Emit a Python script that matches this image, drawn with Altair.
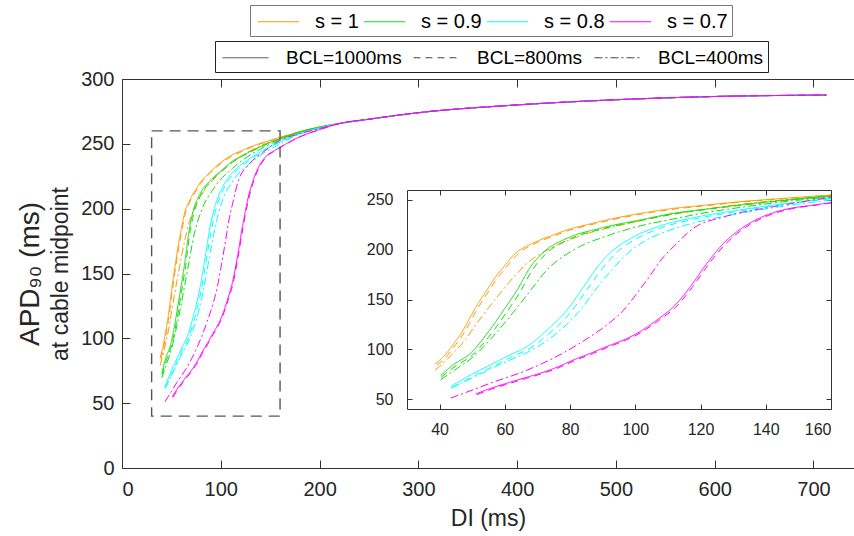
import altair as alt
import pandas as pd

# ---------------- data ----------------
S_LABELS = ["s = 1", "s = 0.9", "s = 0.8", "s = 0.7"]
BCL_LABELS = ["BCL=1000ms", "BCL=800ms", "BCL=400ms"]
COLORS = ["#FF9900", "#11DD11", "#00FFFF", "#FF00FF"]

# shared tail (all curves coincide for DI >= 220 ms)
tail_di = [221, 250, 300, 400, 500, 600, 713]
tail_apd = [265.8, 269, 274, 280, 284, 286.5, 287.6]

# s = 1
di_s1_b1000 = [38.6, 41, 44.4, 47, 49.5, 52, 54.6, 57, 59.7, 63.8, 67, 70.9, 75, 79.1, 85, 91.4, 101.6, 111.8, 122, 132.2, 145, 160, 180, 200]
apd_s1_b1000 = [85, 92, 106, 118, 133, 147, 160, 172, 183, 198, 204, 210, 215, 220, 225, 230, 236.6, 241.6, 245, 248.3, 251.5, 255, 259.4, 263]
di_s1_b800 = [39.2, 41.6, 45, 47.6, 50.1, 52.6, 55.2, 57.6, 60.3, 64.4, 67.6, 71.5, 75.6, 79.7, 85.6, 92, 102.2, 112.4, 122.6, 132.8, 145.6, 160, 180, 200]
apd_s1_b800 = [84, 91, 105, 117, 132, 146, 159, 171, 182, 197, 203.5, 209.5, 214.5, 219.5, 224.5, 229.5, 236, 241, 244.5, 248, 251.3, 254.8, 259.3, 262.9]
di_s1_b400 = [38.6, 42, 45, 48, 50.5, 53, 56, 58.5, 61, 64, 67, 70, 75, 80, 86, 92, 100, 110, 120, 132, 145, 160, 180, 200]
apd_s1_b400 = [79, 89, 99, 110, 122, 133, 146, 156, 166, 177, 187, 194, 203, 210, 217, 222, 228, 235, 240, 245.5, 250, 254, 259, 262.8]

# s = 0.9
di_s09_b1000 = [40.3, 44, 49.5, 54.6, 59.7, 63.8, 67.9, 72, 79.1, 89.3, 101.6, 111.8, 122, 132.2, 145, 160, 180, 200]
apd_s09_b1000 = [73.4, 84, 96, 116, 139.6, 159.7, 183, 198, 211.5, 221.6, 230, 236.6, 241, 245, 249.5, 254, 259.2, 262.9]
di_s09_b800 = [40.5, 44.4, 50, 55.2, 60.3, 64.4, 68.5, 72.6, 79.7, 89.9, 102, 112.2, 122.4, 132.6, 145.3, 160, 180, 200]
apd_s09_b800 = [72, 82, 94, 113, 136, 156, 180, 196, 210.5, 221, 229.5, 236, 240.7, 244.7, 249.3, 253.8, 259.1, 262.8]
di_s09_b400 = [40.3, 45, 50.5, 55.6, 60.7, 66.9, 73, 81.2, 91.4, 101.6, 111.8, 122, 132.2, 145, 160, 180, 200]
apd_s09_b400 = [69.4, 80, 93, 110, 129.6, 155, 180, 200, 214, 224, 231, 237.5, 242.5, 248, 253, 258.9, 262.7]

# s = 0.8
di_s08_b1000 = [43.4, 50.5, 56, 60.7, 66.9, 73, 79.1, 84.2, 89.3, 93.4, 99.5, 106.7, 116.9, 132.2, 145, 160, 180, 200]
apd_s08_b1000 = [62.7, 76, 85, 93, 103, 119.6, 139.6, 163, 186.5, 200, 213, 223, 231.6, 240, 246, 251.7, 258, 262.3]
di_s08_b800 = [44.2, 51.3, 56.8, 61.5, 67.7, 73.8, 79.9, 85, 90.1, 94.2, 100.3, 107.5, 117.7, 133, 145.8, 160, 180, 200]
apd_s08_b800 = [62, 74.5, 83.5, 91.5, 101, 116.5, 136, 159, 182, 197, 211, 221.5, 230.5, 239.3, 245.5, 251.3, 257.8, 262.2]
di_s08_b400 = [43.4, 50.5, 60.7, 67, 73, 79, 84, 88.5, 93.4, 97.5, 103, 110, 118, 128, 140, 160, 180, 200]
apd_s08_b400 = [61, 72, 88, 97, 109, 125, 143, 163, 182, 196, 209, 219, 227, 234, 241, 250, 257.5, 262]

# s = 0.7
di_s07_b1000 = [51, 55, 60.7, 65.8, 70.9, 76, 81.2, 86.3, 91.4, 96.5, 101.6, 106.7, 111.8, 116.9, 122, 127.1, 133.3, 140.4, 147.6, 153.8, 160, 180, 200]
apd_s07_b1000 = [55, 60, 66, 71, 76, 82, 89.5, 96, 103, 109.5, 118, 129.6, 143, 163, 186.5, 206.5, 223, 235, 241.6, 244.5, 247.3, 255.5, 261]
di_s07_b800 = [51.5, 55.5, 61.2, 66.3, 71.4, 76.5, 81.7, 86.8, 91.9, 97, 102.1, 107.2, 112.3, 117.4, 122.5, 127.6, 133.8, 140.9, 148.1, 154.3, 160, 180, 200]
apd_s07_b800 = [54.5, 59.5, 65.5, 70.5, 75.5, 81.5, 89, 95.5, 102.5, 109, 117.5, 129, 142, 162, 185.5, 205.5, 222.5, 234.5, 241.3, 244.3, 247, 255.3, 260.9]
di_s07_b400 = [43.4, 50, 55.6, 65.8, 76, 86.3, 91.5, 96.5, 100, 103.6, 108.7, 112, 118, 127.1, 142.4, 160, 180, 200]
apd_s07_b400 = [51, 59, 66, 77.7, 93, 113, 125, 139.6, 154, 169.7, 193, 204, 222, 233, 243.3, 252.7, 257.8, 261.8]

SERIES = [
    ("s = 1", "BCL=1000ms", di_s1_b1000, apd_s1_b1000),
    ("s = 1", "BCL=800ms", di_s1_b800, apd_s1_b800),
    ("s = 1", "BCL=400ms", di_s1_b400, apd_s1_b400),
    ("s = 0.9", "BCL=1000ms", di_s09_b1000, apd_s09_b1000),
    ("s = 0.9", "BCL=800ms", di_s09_b800, apd_s09_b800),
    ("s = 0.9", "BCL=400ms", di_s09_b400, apd_s09_b400),
    ("s = 0.8", "BCL=1000ms", di_s08_b1000, apd_s08_b1000),
    ("s = 0.8", "BCL=800ms", di_s08_b800, apd_s08_b800),
    ("s = 0.8", "BCL=400ms", di_s08_b400, apd_s08_b400),
    ("s = 0.7", "BCL=1000ms", di_s07_b1000, apd_s07_b1000),
    ("s = 0.7", "BCL=800ms", di_s07_b800, apd_s07_b800),
    ("s = 0.7", "BCL=400ms", di_s07_b400, apd_s07_b400),
]

MAIN_X_DOMAIN = [0, 741]
MAIN_Y_DOMAIN = [0, 300]
INSET_X_DOMAIN = [30, 160]
INSET_Y_DOMAIN = [40, 260]
MAIN_X_TICKS = [0, 100, 200, 300, 400, 500, 600, 700]
MAIN_Y_TICKS = [0, 50, 100, 150, 200, 250, 300]
INSET_X_TICKS = [40, 60, 80, 100, 120, 140, 160]
INSET_Y_TICKS = [50, 100, 150, 200, 250]

rows = []
for s, b, dis, apds in SERIES:
    for d, a in zip(dis + tail_di, apds + tail_apd):
        rows.append({"s": s, "BCL": b, "DI": d, "APD": a})
df = pd.DataFrame(rows)
inset_df = df[df["DI"] <= INSET_X_DOMAIN[1]]

rect_df = pd.DataFrame([{"x0": INSET_X_DOMAIN[0], "x1": INSET_X_DOMAIN[1],
                         "y0": INSET_Y_DOMAIN[0], "y1": INSET_Y_DOMAIN[1]}])
main_anchor = pd.DataFrame([{"DI": MAIN_X_DOMAIN[0], "APD": MAIN_Y_DOMAIN[0]}])
inset_anchor = pd.DataFrame([{"DI": INSET_X_DOMAIN[0], "APD": INSET_Y_DOMAIN[0]}])

# ---------------- layout ----------------
W, H = 732, 389
IX0, IX1 = 285, 709      # inset horizontal range (px in plot area)
IY0, IY1 = 330, 111      # inset vertical range (bottom, top)
FONT = "Liberation Sans"
AX = "#333333"

main_x = alt.Scale(domain=MAIN_X_DOMAIN, nice=False, zero=False)
main_y = alt.Scale(domain=MAIN_Y_DOMAIN, nice=False, zero=False)
inset_x = alt.Scale(domain=INSET_X_DOMAIN, range=[IX0, IX1], nice=False, zero=False)
inset_y = alt.Scale(domain=INSET_Y_DOMAIN, range=[IY0, IY1], nice=False, zero=False)

legend_common = dict(orient="none", direction="horizontal", title=None,
                     symbolSize=576, symbolStrokeWidth=1, padding=4,
                     labelFont=FONT, labelColor="black", fillColor="white")

color_enc = alt.Color(
    "s:N", scale=alt.Scale(domain=S_LABELS, range=COLORS),
    legend=alt.Legend(legendX=128, legendY=-74, columns=4, strokeColor="#777777",
                      symbolType="M-1.72,0H1.72", symbolOffset=12, labelOffset=24,
                      columnPadding=1, labelFontSize=20, **legend_common))
dash_enc = alt.StrokeDash(
    "BCL:N", scale=alt.Scale(domain=BCL_LABELS, range=[[1, 0], [7, 5], [8, 3, 2, 3]]),
    legend=alt.Legend(legendX=93, legendY=-38, columns=3, strokeColor="#222222",
                      symbolStrokeColor="#444444", symbolType="M-1.92,0H1.92",
                      symbolOffset=14, labelOffset=28, columnPadding=8,
                      labelFontSize=19, **legend_common))

main_lines = alt.Chart(df).mark_line(strokeWidth=1, interpolate="monotone").encode(
    x=alt.X("DI:Q", scale=main_x,
            axis=alt.Axis(orient="bottom", values=MAIN_X_TICKS, ticks=False, domain=True,
                          labelFontSize=20, labelPadding=11, title="DI (ms)",
                          titleFontSize=23, titleFontWeight="normal", titlePadding=8)),
    y=alt.Y("APD:Q", scale=main_y,
            axis=alt.Axis(orient="left", values=MAIN_Y_TICKS, ticks=False, domain=True,
                          labelFontSize=20, labelPadding=8, title="at cable midpoint",
                          titleFontSize=23, titleFontWeight="normal", titlePadding=8)),
    color=color_enc, strokeDash=dash_enc,
)

zoom_rect = alt.Chart(rect_df).mark_rect(filled=False, stroke="#555555", strokeWidth=1.4,
                                         strokeDash=[11, 7]).encode(
    x=alt.X("x0:Q", scale=main_x, axis=None), x2="x1:Q",
    y=alt.Y("y0:Q", scale=main_y, axis=None), y2="y1:Q",
)

mirror_main_1 = alt.Chart(main_anchor).mark_point(opacity=0).encode(
    x=alt.X("DI:Q", scale=main_x,
            axis=alt.Axis(orient="top", offset=-H, values=MAIN_X_TICKS, labels=False,
                          domain=False, ticks=True, tickSize=8, title=None)),
    y=alt.Y("APD:Q", scale=main_y,
            axis=alt.Axis(orient="right", offset=-W, values=MAIN_Y_TICKS, labels=False,
                          domain=False, ticks=True, tickSize=8, title=None)),
)
mirror_main_2 = alt.Chart(main_anchor).mark_point(opacity=0).encode(
    x=alt.X("DI:Q", scale=main_x,
            axis=alt.Axis(orient="bottom", offset=-H, values=MAIN_X_TICKS, labels=False,
                          domain=True, ticks=True, tickSize=8, title=None)),
    y=alt.Y("APD:Q", scale=main_y,
            axis=alt.Axis(orient="left", values=MAIN_Y_TICKS, labels=False, domain=False,
                          ticks=False, title="APD\u2089\u2080 (ms)", titleFontSize=28,
                          titleFontWeight="normal", titlePadding=78)),
)

inset_lines = alt.Chart(inset_df).mark_line(strokeWidth=1, interpolate="monotone").encode(
    x=alt.X("DI:Q", scale=inset_x,
            axis=alt.Axis(orient="bottom", offset=IY0 - H, values=INSET_X_TICKS, ticks=False,
                          domain=True, labelFontSize=16, labelPadding=12, title=None)),
    y=alt.Y("APD:Q", scale=inset_y,
            axis=alt.Axis(orient="left", offset=-IX0, values=INSET_Y_TICKS, ticks=False,
                          domain=True, labelFontSize=16, labelPadding=14, title=None)),
    color=color_enc, strokeDash=dash_enc,
)
mirror_inset_1 = alt.Chart(inset_anchor).mark_point(opacity=0).encode(
    x=alt.X("DI:Q", scale=inset_x,
            axis=alt.Axis(orient="top", offset=-IY0, values=INSET_X_TICKS, labels=False,
                          domain=False, ticks=True, tickSize=5, title=None)),
    y=alt.Y("APD:Q", scale=inset_y,
            axis=alt.Axis(orient="right", offset=IX0 - W, values=INSET_Y_TICKS, labels=False,
                          domain=False, ticks=True, tickSize=5, title=None)),
)
mirror_inset_2 = alt.Chart(inset_anchor).mark_point(opacity=0).encode(
    x=alt.X("DI:Q", scale=inset_x,
            axis=alt.Axis(orient="bottom", offset=IY1 - H, values=INSET_X_TICKS, labels=False,
                          domain=True, ticks=True, tickSize=5, title=None)),
    y=alt.Y("APD:Q", scale=inset_y,
            axis=alt.Axis(orient="left", offset=-IX1, values=INSET_Y_TICKS, labels=False,
                          domain=True, ticks=True, tickSize=5, title=None)),
)

chart = alt.layer(
    main_lines, zoom_rect, mirror_main_1, mirror_main_2,
    inset_lines, mirror_inset_1, mirror_inset_2,
).resolve_scale(
    x="independent", y="independent", color="shared", strokeDash="shared"
).properties(
    width=W, height=H,
    padding={"left": 122, "top": 79, "right": 0, "bottom": 68},
    autosize=alt.AutoSizeParams(type="none"),
    background="white",
).configure_view(stroke=None).configure_axis(
    grid=False, labelFont=FONT, titleFont=FONT, labelColor="#262626", titleColor="#262626",
    domainColor=AX, tickColor=AX, domainWidth=1, tickWidth=1,
)

chart.save("out.html", embed_options={"renderer": "svg", "actions": False})
